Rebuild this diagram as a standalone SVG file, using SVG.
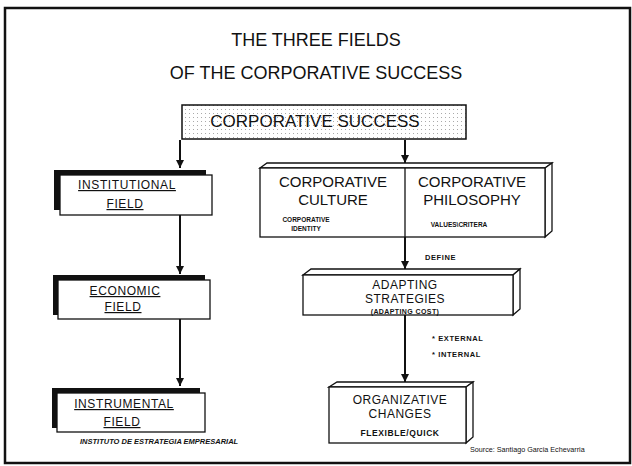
<svg xmlns="http://www.w3.org/2000/svg" width="632" height="466" viewBox="0 0 632 466">
<style>
text{font-family:"Liberation Sans",Arial,sans-serif;fill:#111}
.title{font-size:18px;text-anchor:middle}
.big{font-size:15px;text-anchor:middle}
.mid{font-size:12px;text-anchor:middle;letter-spacing:0.5px}
.fld{font-size:12px;text-anchor:middle;letter-spacing:0.6px;text-decoration:underline}
.sm{font-size:7.5px;font-weight:bold;letter-spacing:0.6px}
.smc{font-size:6.5px;font-weight:bold;text-anchor:middle}
.face{fill:#fff;stroke:#111;stroke-width:1.3}
.line{stroke:#111;stroke-width:2;fill:none}
</style>
<defs>
<pattern id="dots" width="4" height="4" patternUnits="userSpaceOnUse">
<rect x="1" y="1" width="1" height="1" fill="#aaa"/>
</pattern>
<marker id="ah" viewBox="0 0 8 8" refX="8" refY="4" markerWidth="4" markerHeight="4" orient="auto" markerUnits="strokeWidth">
<path d="M0,0 L8,4 L0,8 Z" fill="#111"/>
</marker>
</defs>
<rect x="0" y="0" width="632" height="466" fill="#fff"/>
<rect x="5" y="8" width="625" height="455" fill="none" stroke="#111" stroke-width="2.5"/>
<text class="title" x="316" y="46">THE THREE FIELDS</text>
<text class="title" x="316" y="79">OF THE CORPORATIVE SUCCESS</text>
<g id="connectors">
<path class="line" d="M180,140 V168" marker-end="url(#ah)"/>
<path class="line" d="M405,140 V163" marker-end="url(#ah)"/>
<path class="line" d="M180,215 V274" marker-end="url(#ah)"/>
<path class="line" d="M180,319 V386" marker-end="url(#ah)"/>
<path class="line" d="M405,237 V269" marker-end="url(#ah)"/>
<path class="line" d="M405,315 V382" marker-end="url(#ah)"/>
</g>
<g id="success">
<rect x="182" y="105" width="284" height="34" fill="#fff"/>
<rect x="182" y="105" width="284" height="34" fill="url(#dots)" stroke="#111" stroke-width="1.5"/>
<text x="315" y="127" style="font-size:17px;text-anchor:middle">CORPORATIVE SUCCESS</text>
</g>
<g id="institutional">
<rect x="54" y="170" width="152" height="40" fill="#111"/>
<rect class="face" x="60" y="175" width="152" height="40"/>
<text class="fld" x="127" y="189">INSTITUTIONAL</text>
<text class="fld" x="125" y="208">FIELD</text>
</g>
<g id="economic">
<rect x="53" y="275" width="152" height="40" fill="#111"/>
<rect class="face" x="58" y="280" width="152" height="39"/>
<text class="fld" x="125" y="295">ECONOMIC</text>
<text class="fld" x="123" y="311">FIELD</text>
</g>
<g id="instrumental">
<rect x="52" y="388" width="148" height="40" fill="#111"/>
<rect class="face" x="57" y="393" width="148" height="39"/>
<text class="fld" x="124" y="408">INSTRUMENTAL</text>
<text class="fld" x="122" y="426">FIELD</text>
</g>
<g id="culture-philosophy">
<path class="face" d="M260,168 L267,163 L552,163 L545,168 Z"/>
<path class="face" d="M545,168 L552,163 L552,231 L545,237 Z"/>
<rect class="face" x="260" y="168" width="285" height="69"/>
<line x1="405" y1="168" x2="405" y2="237" stroke="#111" stroke-width="1.3"/>
<text class="big" x="333" y="187">CORPORATIVE</text>
<text class="big" x="333" y="205">CULTURE</text>
<text class="smc" x="306" y="222">CORPORATIVE</text>
<text class="smc" x="306" y="231">IDENTITY</text>
<text class="big" x="472" y="187">CORPORATIVE</text>
<text class="big" x="472" y="205">PHILOSOPHY</text>
<text class="smc" x="459" y="227">VALUES\CRITERA</text>
</g>
<text class="sm" x="425" y="260">DEFINE</text>
<g id="adapting">
<path class="face" d="M303,275 L311,269 L520,269 L513,275 Z"/>
<path class="face" d="M513,275 L520,269 L520,309 L513,315 Z"/>
<rect class="face" x="303" y="275" width="210" height="40"/>
<text class="mid" x="405" y="289">ADAPTING</text>
<text class="mid" x="405" y="303">STRATEGIES</text>
<text x="405" y="313.5" style="font-size:7px;font-weight:bold;text-anchor:middle;letter-spacing:0.4px">(ADAPTING COST)</text>
</g>
<text class="sm" x="432" y="341">* EXTERNAL</text>
<text class="sm" x="432" y="357">* INTERNAL</text>
<g id="organizative">
<path class="face" d="M329,387 L337,382 L473,382 L466,387 Z"/>
<path class="face" d="M466,387 L473,382 L473,437 L466,443 Z"/>
<rect class="face" x="329" y="387" width="137" height="56"/>
<text class="mid" x="400" y="404">ORGANIZATIVE</text>
<text class="mid" x="400" y="418">CHANGES</text>
<text x="400" y="436" style="font-size:8.5px;font-weight:bold;text-anchor:middle;letter-spacing:0.6px">FLEXIBLE/QUICK</text>
</g>
<text x="80" y="444" style="font-size:7.5px;font-weight:bold;font-style:italic">INSTITUTO DE ESTRATEGIA EMPRESARIAL</text>
<text x="470" y="452" style="font-size:7.2px">Source: Santiago Garcia Echevarria</text>
</svg>
